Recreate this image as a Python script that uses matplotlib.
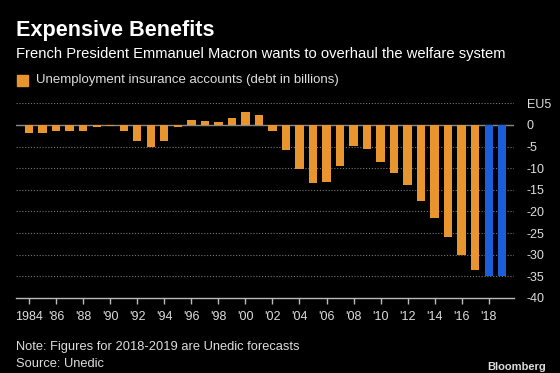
import matplotlib.pyplot as plt
import numpy as np

plt.rcParams['font.family'] = ['Liberation Sans', 'DejaVu Sans']

years = np.arange(1984, 2020)
debt = [-1.8, -1.9, -1.5, -1.5, -1.3, -0.5, -0.15, -1.3, -3.7, -5.2,
        -3.7, -0.4, 1.2, 0.85, 0.6, 1.6, 3.0, 2.2, -1.5, -5.9,
        -10.3, -13.5, -13.1, -9.5, -4.8, -5.5, -8.5, -11.0, -13.8, -17.6,
        -21.4, -25.8, -30.0, -33.6, -34.9, -34.9]
forecast_from = 2018
tick_years = np.arange(1984, 2019, 2)
tick_labels = ['1984'] + ["'%02d" % (y % 100) for y in tick_years[1:]]
y_ticks = [5, 0, -5, -10, -15, -20, -25, -30, -35, -40]
y_labels = ['EU5'] + [str(v) for v in y_ticks[1:]]

orange = '#E8952F'
blue = '#1A5FD8'
grey = '#8a8a8a'

fig = plt.figure(figsize=(5.6, 3.73), dpi=100, facecolor='black')
ax = fig.add_axes([16/560, 1 - 298/373, (514 - 16)/560, (298 - 103.3)/373])
ax.set_facecolor('black')

colors = [blue if y >= forecast_from else orange for y in years]
ax.bar(years, debt, width=0.62, color=colors, zorder=3)
ax.axhline(0, color=grey, linewidth=1, zorder=2)

ax.set_xlim(1983.03, 2019.87)
ax.set_ylim(-40, 5)

for v in y_ticks[:-1]:
    if v != 0:
        ax.axhline(v, color='#777777', linewidth=0.8, linestyle=(0, (1, 1.6)), zorder=1)

for s in ['top', 'right', 'left']:
    ax.spines[s].set_visible(False)
ax.spines['bottom'].set_color('#bbbbbb')
ax.spines['bottom'].set_linewidth(1)

ax.set_xticks(tick_years)
ax.set_xticklabels(tick_labels)
ax.tick_params(axis='x', colors='#bbbbbb', length=4, width=1, pad=5,
               labelsize=9, labelcolor='#dddddd')
ax.yaxis.tick_right()
ax.set_yticks(y_ticks)
ax.set_yticklabels(y_labels)
ax.tick_params(axis='y', length=0, pad=9, labelsize=9, labelcolor='#dddddd')
for lbl in ax.get_yticklabels():
    lbl.set_horizontalalignment('left')

fig.text(16/560, 1 - 36/373, 'Expensive Benefits', color='white',
         fontsize=15.6, fontweight='bold', va='baseline')
fig.text(16/560, 1 - 53.6/373, 'French President Emmanuel Macron wants to overhaul the welfare system',
         color='white', fontsize=10.6, va='center')
fig.patches.append(plt.Rectangle((17/560, 1 - 86/373), 11/560, 11/373,
                                 transform=fig.transFigure, color=orange))
fig.text(36/560, 1 - 80.5/373, 'Unemployment insurance accounts (debt in billions)',
         color='#dddddd', fontsize=9.5, va='center')
fig.text(16/560, 1 - 347/373, 'Note: Figures for 2018-2019 are Unedic forecasts',
         color='#dddddd', fontsize=9.3, va='center')
fig.text(16/560, 1 - 363.6/373, 'Source: Unedic', color='#dddddd', fontsize=9.3, va='center')
fig.text(546/560, 1 - 367/373, 'Bloomberg', color='#dddddd', fontsize=8,
         fontweight='bold', ha='right', va='center')

fig.savefig('out.png', dpi=100, facecolor='black')
